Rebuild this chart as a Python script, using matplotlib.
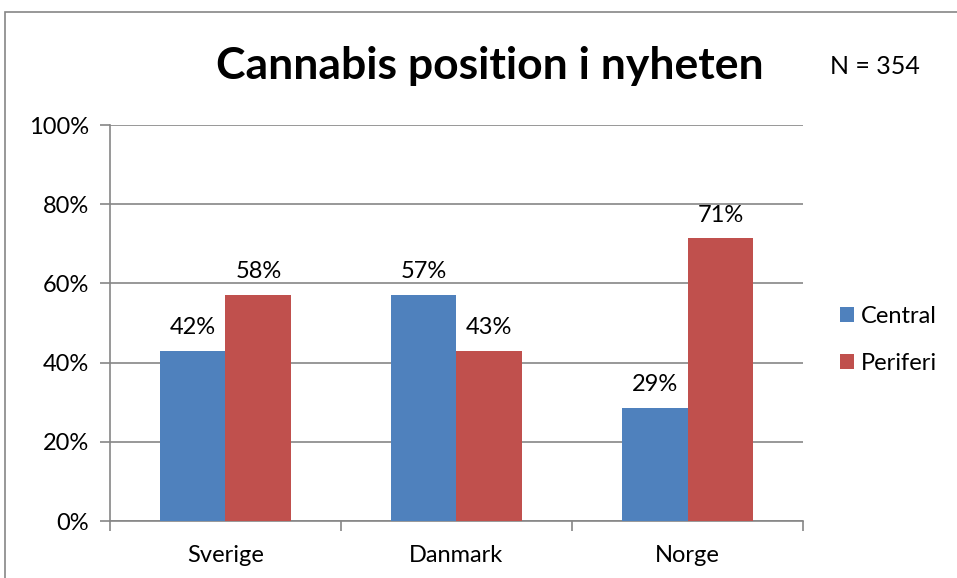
import numpy as np
import matplotlib.pyplot as plt
from matplotlib.patches import Rectangle
from matplotlib.ticker import FuncFormatter

plt.rcParams['font.family'] = ['Lato', 'DejaVu Sans']

# data
countries = ["Sverige", "Danmark", "Norge"]
central = [42.9, 57.1, 28.6]
periferi = [57.1, 42.9, 71.4]
central_labels = ["42%", "57%", "29%"]
periferi_labels = ["58%", "43%", "71%"]

blue = "#4F81BD"
red = "#C0504D"
gray = "#868686"

fig = plt.figure(figsize=(9.57, 5.78), dpi=100)
ax = fig.add_axes([0.1149, 0.0986, 0.7242, 0.6851])

# frame around the chart area (cut off at right/bottom like the reference)
fig.patches.append(Rectangle((5 / 957, -0.05), 1.1, 1 - 12 / 578 + 0.05,
                             transform=fig.transFigure, fill=False,
                             edgecolor=gray, linewidth=1.2))

x = np.arange(len(countries))
w = 0.285
b1 = ax.bar(x - w / 2, central, w, color=blue, label="Central", zorder=3)
b2 = ax.bar(x + w / 2, periferi, w, color=red, label="Periferi", zorder=3)

for bars, labs in [(b1, central_labels), (b2, periferi_labels)]:
    for bar, lab in zip(bars, labs):
        ax.text(bar.get_x() + bar.get_width() / 2, bar.get_height() + 3.2, lab,
                ha="center", va="bottom", fontsize=17)

ax.set_xlim(-0.5, 2.5)
ax.set_ylim(0, 100)
ax.set_yticks(np.arange(0, 101, 20))
ax.yaxis.set_major_formatter(FuncFormatter(lambda v, p: f"{int(v)}%"))
ax.set_xticks(x)
ax.set_xticklabels(countries)
ax.set_xticks([-0.5, 0.5, 1.5, 2.5], minor=True)
ax.tick_params(axis="x", which="major", length=0, pad=17, labelsize=17)
ax.tick_params(axis="x", which="minor", length=7, color=gray, width=1.2)
ax.tick_params(axis="y", length=7, color=gray, width=1.2, labelsize=17, pad=8)
ax.grid(axis="y", color=gray, linewidth=1.2, zorder=0)
for s in ["top", "right"]:
    ax.spines[s].set_visible(False)
for s in ["left", "bottom"]:
    ax.spines[s].set_color(gray)
    ax.spines[s].set_linewidth(1.2)

fig.text(490 / 957, 1 - 66 / 578, "Cannabis position i nyheten", ha="center",
         va="center", fontsize=32, fontweight="bold")
fig.text(830 / 957, 1 - 66 / 578, "N = 354", ha="left", va="center", fontsize=18)

ax.legend(loc="center left", bbox_to_anchor=(840 / 957, 1 - 340 / 578),
          bbox_transform=fig.transFigure, frameon=False,
          fontsize=17, handlelength=0.6, handleheight=0.6, handletextpad=0.3,
          labelspacing=1.1, borderaxespad=0, borderpad=0)

fig.savefig("out.png", dpi=100)
